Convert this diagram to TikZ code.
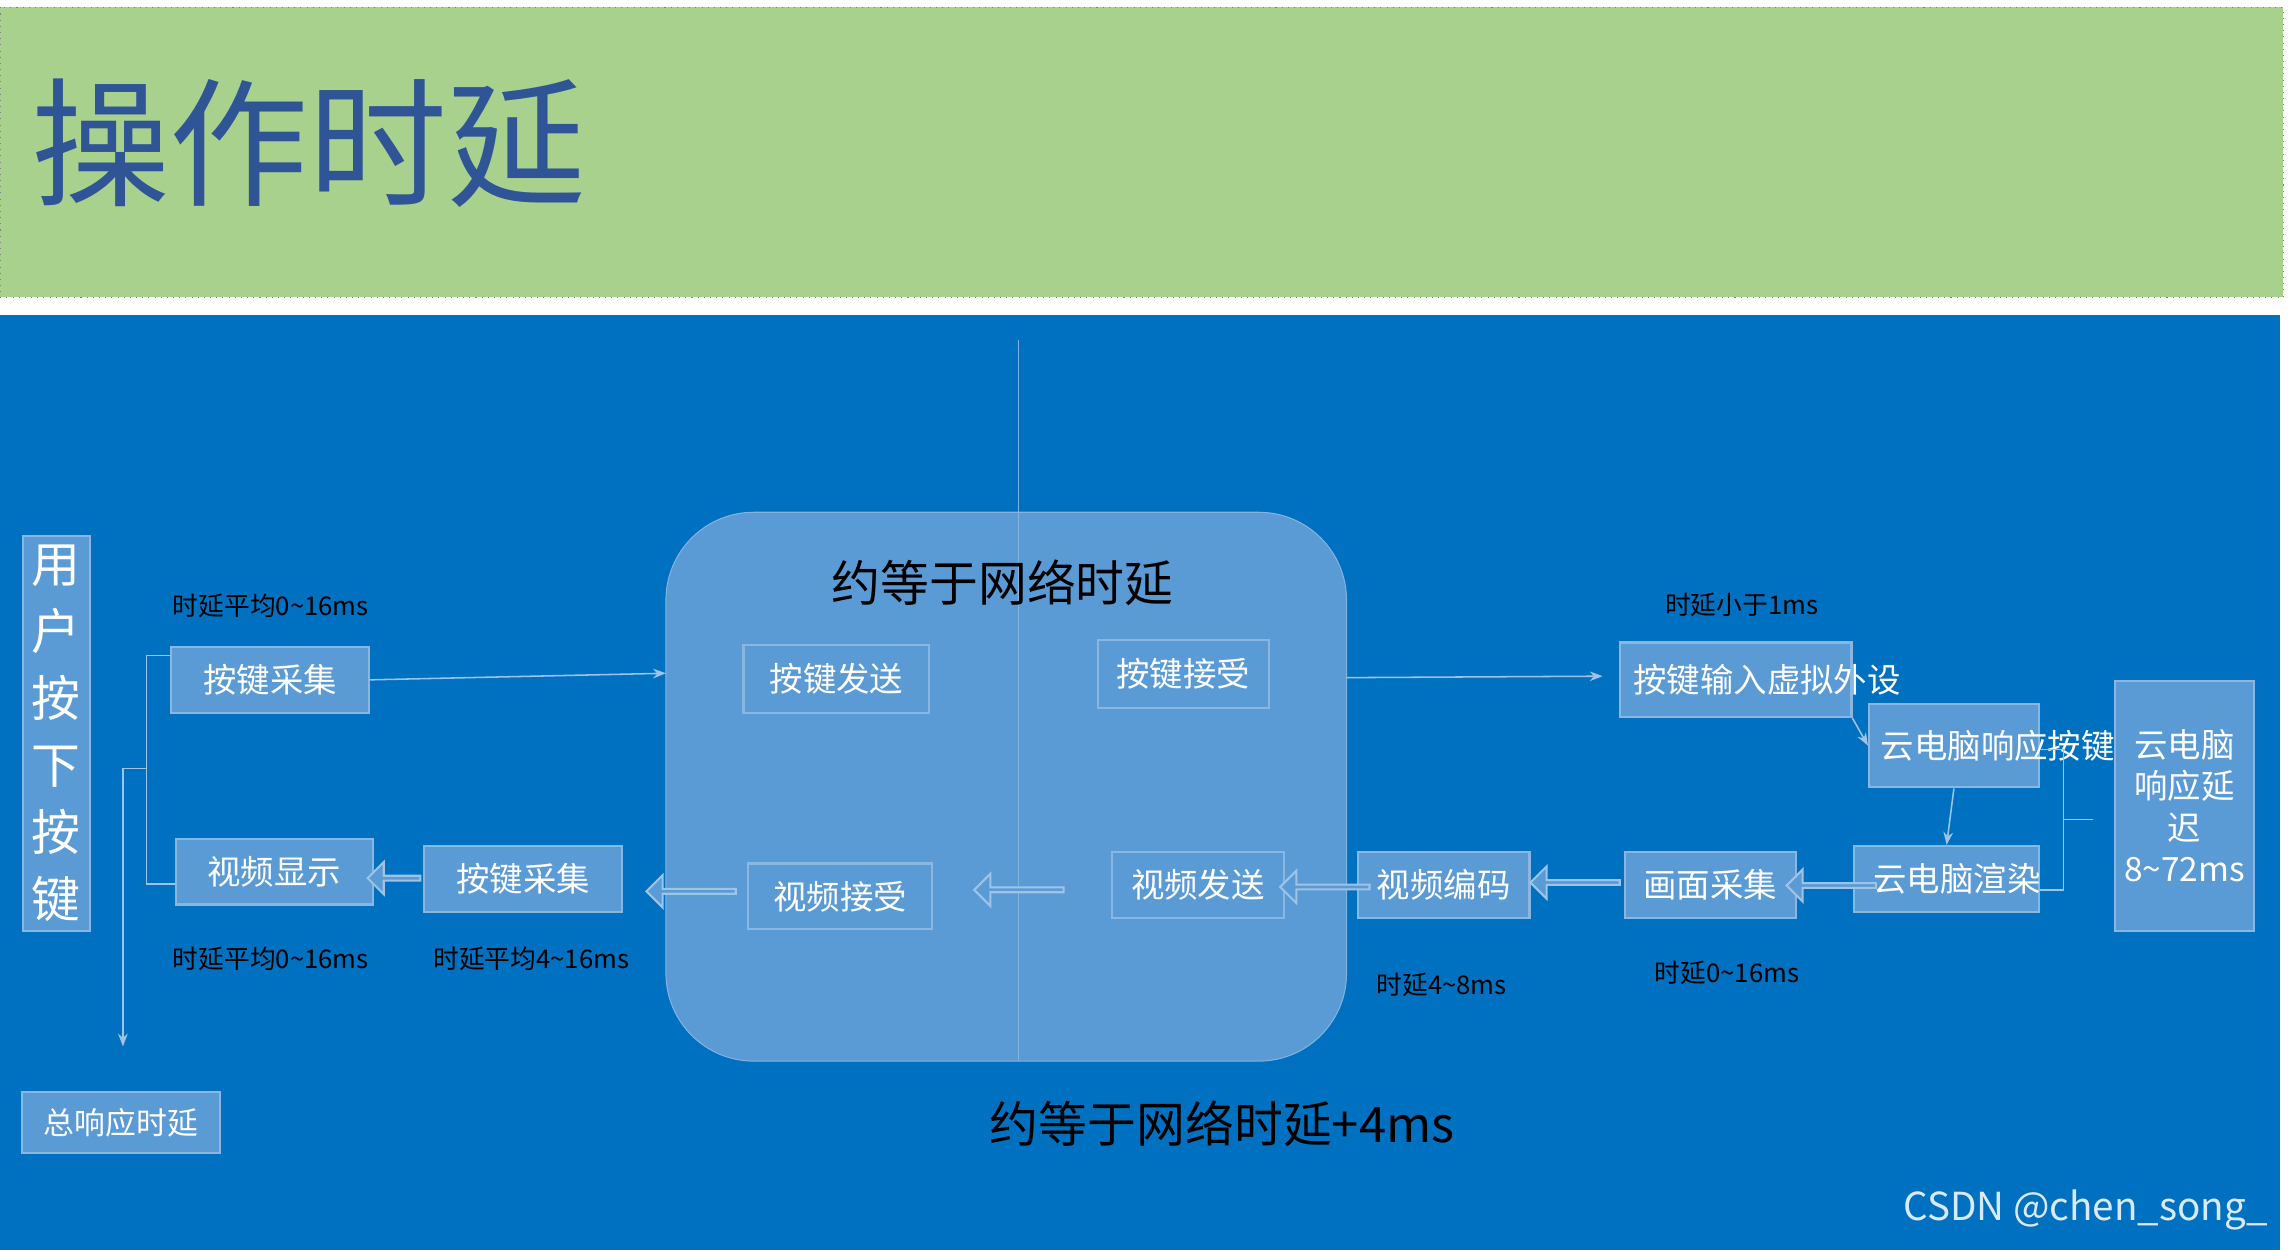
\documentclass[tikz,border=0pt]{standalone}
\usepackage{fontspec}
\setmainfont{Noto Sans CJK SC}
\usetikzlibrary{arrows.meta,shapes.arrows}
\newlength\un
\setlength\un{0.02cm}
\definecolor{bgblue}{HTML}{0070C0}
\definecolor{boxblue}{HTML}{5B9BD5}
\definecolor{lineblue}{HTML}{9DC3E6}
\definecolor{titlegreen}{HTML}{A9D18E}
\definecolor{titleblue}{HTML}{2F5597}
\begin{document}
\begin{tikzpicture}[x=0.02cm,y=-0.02cm]
\tikzstyle{box}=[draw=lineblue!70!boxblue,fill=boxblue,text=white,font=\fontsize{13}{15}\selectfont,inner sep=1pt,align=center,line width=0.8pt]
\tikzstyle{lbl}=[text=black,font=\fontsize{10}{12}\selectfont]
\tikzstyle{big}=[text=black,font=\fontsize{19}{22}\selectfont]
\tikzstyle{barrow}=[single arrow,shape border rotate=180,draw=lineblue,fill=boxblue,minimum width=22\un,single arrow head extend=4\un,inner sep=0pt,line width=0.8pt]
\tikzstyle{thin}=[draw=lineblue,-{Stealth[length=5pt]},line width=0.6pt]
\useasboundingbox (0,0) rectangle (1566,854);
% background panels
\fill[titlegreen] (0,5) rectangle (1560,203);
\draw[gray,dotted] (0,5) rectangle (1560,203);
\node[text=titleblue,font=\fontsize{54}{60}\selectfont,anchor=west] (title) at (15,98) {操作时延};
\fill[bgblue] (0,215) rectangle (1558,854);
\draw[fill=boxblue,draw=lineblue!60!boxblue,rounded corners=60\un] (455,350) rectangle (920,725);
\draw[lineblue!60!boxblue,line width=0.4pt] (696,232) -- (696,725);
\node[big,text=black] (net) at (685,398) {约等于网络时延};
% boxes
\node[box,minimum width=46\un,minimum height=270\un,font=\fontsize{19}{26}\selectfont] (user) at (38.5,501) {用\\户\\按\\下\\按\\键};
\node[box,minimum width=135\un,minimum height=45\un] (kc) at (184.5,464.5) {按键采集};
\node[box,minimum width=127\un,minimum height=46\un] (ks) at (571.5,464) {按键发送};
\node[box,minimum width=117\un,minimum height=47\un] (kr) at (808.5,460.5) {按键接受};
\node[box,minimum width=158\un,minimum height=51\un,text width=140\un,font=\fontsize{13}{14}\selectfont] (vin) at (1186,464.5) {按键输入虚拟外设};
\node[box,minimum width=116\un,minimum height=57\un,text width=100\un,font=\fontsize{13}{14}\selectfont] (resp) at (1335,509.5) {云电脑响应按键};
\node[box,minimum width=126\un,minimum height=45\un,text width=100\un,font=\fontsize{13}{14}\selectfont] (rend) at (1330,600.5) {云电脑渲染};
\node[box,minimum width=117\un,minimum height=45\un] (cap) at (1168.5,604.5) {画面采集};
\node[box,minimum width=117\un,minimum height=45\un] (enc) at (986.5,604.5) {视频编码};
\node[box,minimum width=117\un,minimum height=45\un] (vs) at (818.5,604.5) {视频发送};
\node[box,minimum width=126\un,minimum height=45\un] (vr) at (574,612.5) {视频接受};
\node[box,minimum width=135\un,minimum height=45\un] (kc2) at (357.5,600.5) {按键采集};
\node[box,minimum width=135\un,minimum height=45\un] (disp) at (187.5,595.5) {视频显示};
\node[box,minimum width=95\un,minimum height=171\un,text width=85\un,font=\fontsize{13}{16}\selectfont] (delay) at (1492.5,550.5) {云电脑\\响应延\\迟\\8\textasciitilde72ms};
\node[box,minimum width=135\un,minimum height=42\un,font=\fontsize{12}{14}\selectfont] (total) at (82.5,767) {总响应时延};
% labels
\node[lbl] (l1) at (185,414) {时延平均0\textasciitilde16ms};
\node[lbl] (l2) at (1190,413) {时延小于1ms};
\node[lbl] (l3) at (185,655) {时延平均0\textasciitilde16ms};
\node[lbl] (l4) at (363,655) {时延平均4\textasciitilde16ms};
\node[lbl] (l5) at (985,673) {时延4\textasciitilde8ms};
\node[lbl] (l6) at (1180,665) {时延0\textasciitilde16ms};
\node[big] (sum) at (835,768) {约等于网络时延+4ms};
\node[text=white!85!bgblue,font=\fontsize{15}{18}\selectfont] (csdn) at (1425,827) {CSDN @chen\_song\_};
% thin connectors
\coordinate (rl) at (455,460);
\coordinate (rr) at (920,463);
\coordinate (vinw) at (1095,462);
\draw[thin] (kc.east) -- (rl);
\draw[thin] (rr) -- (vinw);
\draw[thin] (vin.south east) -- (resp.west);
\draw[thin] (resp.south) -- (rend.north);
% block arrows
\node[barrow,minimum height=61\un] (a1) at (1252,605) {};
\node[barrow,minimum height=61\un] (a2) at (1077,603) {};
\node[barrow,minimum height=61\un] (a3) at (906,606) {};
\node[barrow,minimum height=61\un] (a4) at (697,608) {};
\node[barrow,minimum height=61\un] (a5) at (473,609) {};
\node[barrow,minimum height=36\un] (a6) at (270,600) {};
% brackets
\coordinate (b1) at (100,448);
\coordinate (b2) at (100,604);
\coordinate (b3) at (84,525);
\coordinate (b4) at (84,715);
\draw[lineblue,line width=0.6pt] (kc.west |- b1) -- (b1) -- (b2) -- (disp.west |- b2) (100,525) -- (b3);
\draw[thin] (b3) -- (b4);
\coordinate (c1) at (1410,512);
\coordinate (c2) at (1410,608);
\draw[lineblue,line width=0.6pt] (resp.east |- c1) -- (c1) -- (c2) -- (rend.east |- c2) (1410,560) -- (1430,560);
\end{tikzpicture}
\end{document}
